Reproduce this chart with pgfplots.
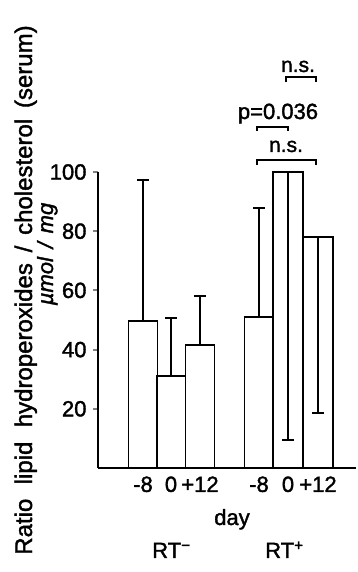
\documentclass[border=0pt]{standalone}
\usepackage{fontspec}
\setmainfont{Liberation Sans}[FakeBold=1.6]
\usepackage{pgfplots}
\pgfplotsset{compat=1.18}
\begin{document}
\begin{tikzpicture}[x=1pt,y=1pt]
\useasboundingbox (0,0) rectangle (358,572);
\begin{axis}[
  at={(98pt,104pt)}, anchor=south west,
  scale only axis, width=258pt, height=296pt,
  xmin=0, xmax=258, ymin=0, ymax=100,
  axis x line*=bottom, axis y line*=left,
  axis line style={line width=2.2pt, -},
  xtick={45,73,102,161,190,220},
  xticklabels={-8,0,+12,-8,0,+12},
  major x tick style={draw=none},
  ytick={20,40,60,80,100},
  tick align=outside, major tick length=5pt,
  major y tick style={line width=2pt},
  /pgf/number format/assume math mode=true,
  tick label style={font=\fontsize{22}{24}\selectfont},
  yticklabel style={xshift=-3pt},
  clip=false,
]
\addplot[ybar, bar width=29, bar shift=0pt, draw=black, fill=white, line width=1.8pt,
  error bars/.cd, y dir=plus, y explicit,
  error bar style={line width=1.8pt},
  error mark=-,
  error mark options={line width=1.8pt, mark size=6pt, rotate=90}]
  coordinates {(45,49.7) +- (0,47.6) (73,31.1) +- (0,19.6) (102,41.6) +- (0,16.5) (161,51) +- (0,36.8)};
\addplot[ybar, bar width=29.5, bar shift=0pt, draw=black, fill=white, line width=1.8pt,
  error bars/.cd, y dir=minus, y explicit,
  error bar style={line width=1.8pt},
  error mark=-,
  error mark options={line width=1.8pt, mark size=6pt, rotate=90}]
  coordinates {(190,100) +- (0,90.5) (220,78) +- (0,59.4)};
\end{axis}
\begin{scope}[font=\fontsize{21}{24}\selectfont, line width=2pt]
\draw (286,490) -- (286,495) -- (316,495) -- (316,490);
\node[anchor=base, inner sep=0pt] at (298,500) {n.s.};
\draw (257,441) -- (257,445) -- (288,445) -- (288,441);
\node[anchor=base, inner sep=0pt, font=\fontsize{22}{24}\selectfont] at (278,453) {p=0.036};
\draw (257,407) -- (257,412) -- (316,412) -- (316,407);
\node[anchor=base, inner sep=0pt] at (286,420) {n.s.};
\end{scope}
\node[rotate=90, anchor=base, inner sep=0pt, font=\fontsize{24}{28}\selectfont] at (32,282) {Ratio\hspace{0.6em}lipid\hspace{0.6em}hydroperoxides\hspace{0.45em}/\hspace{0.45em}cholesterol\hspace{0.45em}(serum)};
\node[rotate=90, anchor=base, inner sep=0pt, font=\itshape\fontsize{22}{24}\selectfont] at (53,318) {µmol\hspace{0.4em}/\hspace{0.4em}mg};
\node[anchor=base, inner sep=0pt, font=\fontsize{22}{24}\selectfont] at (232,47) {day};
\node[anchor=base west, inner sep=0pt, font=\fontsize{22}{24}\selectfont] at (152,14) {RT\textsuperscript{−}};
\node[anchor=base west, inner sep=0pt, font=\fontsize{22}{24}\selectfont] at (265,14) {RT\textsuperscript{+}};
\end{tikzpicture}
\end{document}
